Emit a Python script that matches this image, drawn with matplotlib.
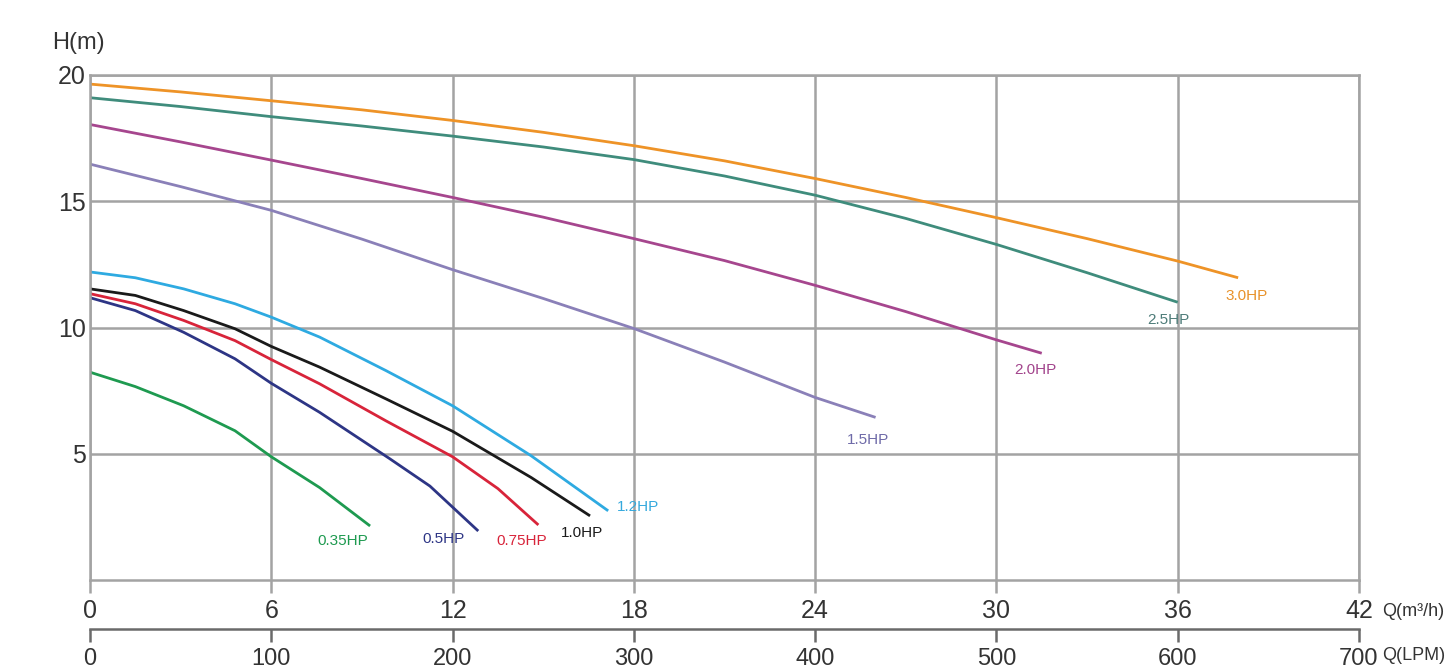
import matplotlib
matplotlib.use("Agg")
import matplotlib.pyplot as plt
from matplotlib import font_manager

# ---------------- data ----------------
q_30 = [0, 3, 6, 9, 12, 15, 18, 21, 24, 27, 30, 33, 36, 38]
h_30 = [19.64, 19.33, 18.98, 18.62, 18.2, 17.73, 17.2, 16.6, 15.9, 15.15, 14.35, 13.52, 12.63, 11.97]

q_25 = [0, 3, 6, 9, 12, 15, 18, 21, 24, 27, 30, 33, 36]
h_25 = [19.1, 18.75, 18.35, 17.98, 17.58, 17.15, 16.65, 16.0, 15.24, 14.32, 13.29, 12.17, 11.0]

q_20 = [0, 3, 6, 9, 12, 15, 18, 21, 24, 27, 30, 31.5]
h_20 = [18.04, 17.35, 16.63, 15.9, 15.15, 14.37, 13.52, 12.65, 11.67, 10.63, 9.51, 8.98]

q_15 = [0, 3, 6, 9, 12, 15, 18, 21, 24, 26]
h_15 = [16.47, 15.58, 14.64, 13.5, 12.29, 11.15, 9.96, 8.63, 7.23, 6.44]

q_12 = [0, 1.5, 3.1, 4.8, 6, 7.6, 9.8, 12, 14.6, 17.15]
h_12 = [12.2, 11.97, 11.53, 10.94, 10.41, 9.62, 8.29, 6.9, 4.92, 2.74]

q_10 = [0, 1.5, 3.1, 4.8, 6, 7.6, 9.8, 12, 14.6, 16.55]
h_10 = [11.53, 11.27, 10.67, 9.95, 9.25, 8.43, 7.17, 5.89, 4.06, 2.54]

q_075 = [0, 1.5, 3.1, 4.8, 6, 7.6, 9.8, 12, 13.5, 14.84]
h_075 = [11.34, 10.94, 10.28, 9.48, 8.73, 7.77, 6.3, 4.88, 3.62, 2.18]

q_05 = [0, 1.5, 3.1, 4.8, 6, 7.6, 9.9, 11.25, 12.85]
h_05 = [11.18, 10.67, 9.81, 8.76, 7.79, 6.64, 4.82, 3.72, 1.94]

q_035 = [0, 1.5, 3.1, 4.8, 6, 7.6, 9.27]
h_035 = [8.23, 7.66, 6.9, 5.91, 4.88, 3.66, 2.14]

labels = ["3.0HP", "2.5HP", "2.0HP", "1.5HP", "1.2HP", "1.0HP", "0.75HP", "0.5HP", "0.35HP"]
label_q = [38.27, 35.7, 31.3, 25.75, 18.15, 16.3, 14.3, 11.7, 8.35]
label_h = [11.23, 10.28, 8.33, 5.56, 2.9, 1.87, 1.55, 1.63, 1.55]

line_colors = ["#EE9327", "#3F8C7C", "#A6468E", "#8A80B8", "#2EAAE1",
               "#1A1A1A", "#D8243A", "#2D3585", "#1E9A50"]
text_colors = ["#E8922A", "#4E7C79", "#A2448C", "#6E6AA8", "#35A9DD",
               "#1A1A1A", "#D8243A", "#2D3585", "#1E9A50"]

x_ticks = [0, 6, 12, 18, 24, 30, 36, 42]
y_ticks = [5, 10, 15, 20]
lpm_ticks = [0, 100, 200, 300, 400, 500, 600, 700]

series = [(q_30, h_30), (q_25, h_25), (q_20, h_20), (q_15, h_15), (q_12, h_12),
          (q_10, h_10), (q_075, h_075), (q_05, h_05), (q_035, h_035)]

# ---------------- fonts ----------------
avail = {f.name for f in font_manager.fontManager.ttflist}
main_font = "Liberation Sans" if "Liberation Sans" in avail else "DejaVu Sans"
narrow_font = "Liberation Sans Narrow" if "Liberation Sans Narrow" in avail else main_font
plt.rcParams['font.family'] = [main_font, 'DejaVu Sans']

W, H = 1449, 672
fig = plt.figure(figsize=(W / 100, H / 100), dpi=100)
L, R, T, B = 90, 1359, 75, 580
ax = fig.add_axes([L / W, 1 - B / H, (R - L) / W, (B - T) / H])

grid_c = "#A3A3A3"
ax.set_xlim(0, 42)
ax.set_ylim(0, 20)
ax.set_xticks(x_ticks)
ax.set_yticks(y_ticks)
ax.grid(True, color=grid_c, linewidth=1.8)
for s in ax.spines.values():
    s.set_color(grid_c)
    s.set_linewidth(1.8)
ax.tick_params(axis='x', direction='out', length=9, width=1.8, color=grid_c,
               labelsize=18, labelcolor="#333333", pad=5)
ax.tick_params(axis='y', length=0, labelsize=18, labelcolor="#333333", pad=3)
ax.set_axisbelow(True)

for (q, h), c in zip(series, line_colors):
    ax.plot(q, h, color=c, linewidth=2.0, solid_capstyle='butt', solid_joinstyle='round')

for lab, lq, lh, c in zip(labels, label_q, label_h, text_colors):
    ax.text(lq, lh, lab, color=c, fontsize=11, ha='center', va='center',
            family=[narrow_font, 'DejaVu Sans'])

# secondary axis in LPM
sec = ax.secondary_xaxis(-0.097, functions=(lambda x: x * 700 / 42, lambda x: x * 42 / 700))
sec.set_xticks(lpm_ticks)
sec.spines['bottom'].set_color("#6A6A6A")
sec.spines['bottom'].set_linewidth(1.8)
sec.tick_params(axis='x', direction='out', length=9, width=1.8, color="#6A6A6A",
                labelsize=17, labelcolor="#333333", pad=5)
for t in sec.get_xticklabels():
    t.set_family([narrow_font, 'DejaVu Sans'])

fig.text(52 / W, 1 - 43 / H, "H(m)", fontsize=17, color="#333333", ha='left', va='center')
fig.text(1382 / W, 1 - 612 / H, "Q(m³/h)", fontsize=13, color="#333333", ha='left', va='center')
fig.text(1382 / W, 1 - 656 / H, "Q(LPM)", fontsize=13, color="#333333", ha='left', va='center')

fig.savefig("out.png", dpi=100)
